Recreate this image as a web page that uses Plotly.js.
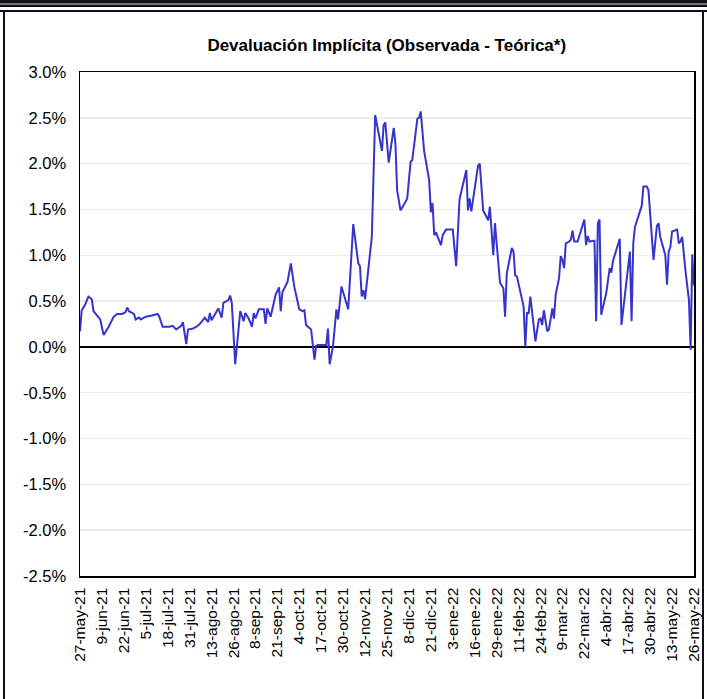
<!DOCTYPE html>
<html><head><meta charset="utf-8">
<script src="https://cdn.plot.ly/plotly-3.0.1.min.js"></script>
<style>
html,body{margin:0;padding:0;background:#fff;}
#wrap{position:relative;width:707px;height:699px;overflow:hidden;}
#chart{position:absolute;left:0;top:0;width:707px;height:699px;}
.bar{position:absolute;pointer-events:none;background:#111;}
</style></head><body>
<div id="wrap">
<div id="chart"></div>
<div class="bar" style="left:0;top:0;width:707px;height:3px;"></div>
<div class="bar" style="left:0;top:3px;width:707px;height:2px;background:#6f7685;"></div>
<div class="bar" style="left:0;top:5px;width:707px;height:2px;"></div>
<div class="bar" style="left:0;top:10px;width:707px;height:2px;"></div>
<div class="bar" style="left:3px;top:10px;width:2px;height:689px;"></div>
<div class="bar" style="left:702px;top:10px;width:2px;height:689px;"></div>
</div>
<script>
const dates = [
 '2021-05-27','2021-05-28','2021-05-30',
 '2021-06-01','2021-06-03','2021-06-04','2021-06-08','2021-06-10','2021-06-13','2021-06-16','2021-06-18','2021-06-21','2021-06-23','2021-06-24','2021-06-25','2021-06-28','2021-06-29',
 '2021-07-01','2021-07-02','2021-07-05','2021-07-08','2021-07-12','2021-07-13','2021-07-15','2021-07-19','2021-07-21','2021-07-23','2021-07-26','2021-07-27','2021-07-29','2021-07-30',
 '2021-08-02','2021-08-04','2021-08-06','2021-08-09','2021-08-11','2021-08-12','2021-08-13','2021-08-17','2021-08-19','2021-08-20','2021-08-23','2021-08-24','2021-08-25','2021-08-27','2021-08-29','2021-08-30',
 '2021-09-01','2021-09-02','2021-09-04','2021-09-06','2021-09-07','2021-09-08','2021-09-10','2021-09-13','2021-09-14','2021-09-15','2021-09-17','2021-09-20','2021-09-22','2021-09-23','2021-09-24','2021-09-27','2021-09-29',
 '2021-10-01','2021-10-04','2021-10-06','2021-10-07','2021-10-08','2021-10-11','2021-10-13','2021-10-14','2021-10-15','2021-10-20','2021-10-21','2021-10-22','2021-10-24','2021-10-26','2021-10-27','2021-10-29',
 '2021-11-02','2021-11-05','2021-11-08','2021-11-09','2021-11-10','2021-11-11','2021-11-12','2021-11-16','2021-11-18','2021-11-22','2021-11-23','2021-11-24','2021-11-26','2021-11-29','2021-11-30',
 '2021-12-01','2021-12-03','2021-12-05','2021-12-07','2021-12-09','2021-12-10','2021-12-13','2021-12-14','2021-12-15','2021-12-17','2021-12-20','2021-12-21','2021-12-22','2021-12-23','2021-12-24','2021-12-27','2021-12-28','2021-12-30',
 '2022-01-03','2022-01-05','2022-01-07','2022-01-11','2022-01-12','2022-01-13','2022-01-14','2022-01-18','2022-01-19','2022-01-21','2022-01-23','2022-01-24','2022-01-25','2022-01-27','2022-01-28','2022-01-31',
 '2022-02-02','2022-02-03','2022-02-04','2022-02-07','2022-02-08','2022-02-09','2022-02-10','2022-02-14','2022-02-15','2022-02-16','2022-02-17','2022-02-18','2022-02-21','2022-02-23','2022-02-24','2022-02-25','2022-02-26','2022-02-28',
 '2022-03-01','2022-03-03','2022-03-04','2022-03-05','2022-03-07','2022-03-08','2022-03-09','2022-03-10','2022-03-11','2022-03-13','2022-03-14','2022-03-15','2022-03-16','2022-03-18','2022-03-22','2022-03-23','2022-03-24','2022-03-25','2022-03-28','2022-03-29','2022-03-30','2022-03-31',
 '2022-04-01','2022-04-04','2022-04-06','2022-04-07','2022-04-08','2022-04-12','2022-04-13','2022-04-18','2022-04-19','2022-04-20','2022-04-21','2022-04-25','2022-04-26','2022-04-28','2022-04-29',
 '2022-05-02','2022-05-04','2022-05-05','2022-05-06','2022-05-09','2022-05-10','2022-05-11','2022-05-12','2022-05-13','2022-05-16','2022-05-17','2022-05-18','2022-05-19','2022-05-21','2022-05-23','2022-05-24','2022-05-25','2022-05-26'
];
const devaluacion = [
 0.17,0.40,0.46,
 0.55,0.52,0.39,0.30,0.13,0.22,0.33,0.36,0.36,0.38,0.43,0.39,0.36,0.30,
 0.32,0.30,0.33,0.34,0.36,0.33,0.22,0.22,0.23,0.19,0.23,0.27,0.03,0.19,
 0.20,0.22,0.25,0.32,0.27,0.37,0.29,0.42,0.32,0.48,0.51,0.56,0.48,-0.19,0.19,0.39,
 0.28,0.37,0.31,0.22,0.37,0.31,0.41,0.41,0.25,0.42,0.33,0.57,0.65,0.39,0.60,0.71,0.91,
 0.66,0.41,0.39,0.40,0.24,0.19,-0.14,0.01,0.02,0.02,0.20,-0.19,0.01,0.41,0.30,0.66,
 0.41,1.34,0.91,0.88,0.55,0.62,0.52,1.20,2.53,2.14,2.42,2.45,2.01,2.39,2.22,
 1.71,1.49,1.55,1.62,2.02,2.04,2.49,2.50,2.57,2.14,1.82,1.47,1.57,1.22,1.25,1.11,1.22,1.28,
 1.28,0.88,1.61,1.93,1.49,1.62,1.48,1.98,2.00,1.49,1.42,1.38,1.53,1.00,1.35,0.70,
 0.64,0.33,0.80,1.08,1.04,0.78,0.77,0.44,0.00,0.37,0.37,0.55,0.06,0.30,0.31,0.24,0.40,0.17,
 0.19,0.42,0.31,0.57,0.75,0.99,0.95,0.86,1.13,1.15,1.17,1.27,1.15,1.15,1.39,1.11,1.21,1.15,1.16,0.28,1.35,1.39,
 0.35,0.59,0.86,0.81,0.94,1.18,0.24,1.04,0.28,1.13,1.31,1.54,1.75,1.75,1.71,
 0.95,1.32,1.35,1.20,1.00,0.68,1.04,1.09,1.26,1.28,1.13,1.15,1.20,0.82,0.51,-0.03,1.01,0.67
];
const xTickDates = ['2021-05-27','2021-06-09','2021-06-22','2021-07-05','2021-07-18','2021-07-31','2021-08-13','2021-08-26','2021-09-08','2021-09-21','2021-10-04','2021-10-17','2021-10-30','2021-11-12','2021-11-25','2021-12-08','2021-12-21','2022-01-03','2022-01-16','2022-01-29','2022-02-11','2022-02-24','2022-03-09','2022-03-22','2022-04-04','2022-04-17','2022-04-30','2022-05-13','2022-05-26'];
const xTickLabels = ['27-may-21','9-jun-21','22-jun-21','5-jul-21','18-jul-21','31-jul-21','13-ago-21','26-ago-21','8-sep-21','21-sep-21','4-oct-21','17-oct-21','30-oct-21','12-nov-21','25-nov-21','8-dic-21','21-dic-21','3-ene-22','16-ene-22','29-ene-22','11-feb-22','24-feb-22','9-mar-22','22-mar-22','4-abr-22','17-abr-22','30-abr-22','13-may-22','26-may-22'];
const yTickVals = [-2.5,-2.0,-1.5,-1.0,-0.5,0,0.5,1.0,1.5,2.0,2.5,3.0];
const yTickLabels = ['-2.5%','-2.0%','-1.5%','-1.0%','-0.5%','0.0%','0.5%','1.0%','1.5%','2.0%','2.5%','3.0%'];

const font = 'Liberation Sans, Arial, sans-serif';
Plotly.newPlot('chart', [{
  x: dates, y: devaluacion, type: 'scatter', mode: 'lines',
  line: {color: '#3535cc', width: 2}, hoverinfo: 'x+y'
}], {
  width: 707, height: 699,
  margin: {l: 80, r: 13, t: 72, b: 123},
  paper_bgcolor: '#fff', plot_bgcolor: '#fff',
  showlegend: false,
  title: {text: 'Devaluación Implícita (Observada - Teórica*)', font: {family: font, size: 17, color: '#000', weight: 'bold'}, x: 0.547, xanchor: 'center', y: 0.935, yanchor: 'middle'},
  xaxis: {
    type: 'date', range: ['2021-05-27', '2022-05-26'],
    tickmode: 'array', tickvals: xTickDates, ticktext: xTickLabels,
    tickangle: -90, tickfont: {family: font, size: 15.5, color: '#000'},
    showgrid: false, zeroline: false, showline: true, mirror: true,
    linecolor: '#000', linewidth: 1.5, ticks: '', ticklabelstandoff: 4
  },
  yaxis: {
    range: [-2.5, 3.0], tickmode: 'array', tickvals: yTickVals, ticktext: yTickLabels,
    tickfont: {family: font, size: 16.5, color: '#000'},
    showgrid: true, gridcolor: '#ececec', gridwidth: 1.5,
    zeroline: true, zerolinecolor: '#000', zerolinewidth: 1.5,
    showline: true, mirror: true, linecolor: '#000', linewidth: 1.5,
    ticks: '', ticklabelstandoff: 9
  }
}, {displayModeBar: false, staticPlot: true});
</script>
</body></html>
